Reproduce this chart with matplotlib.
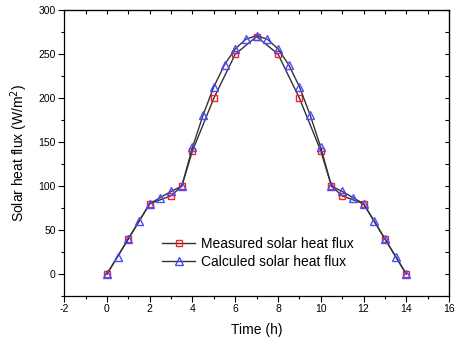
import matplotlib
matplotlib.use("Agg")
import matplotlib.pyplot as plt
from matplotlib.ticker import MultipleLocator

plt.rcParams['font.family'] = ['Liberation Sans', 'DejaVu Sans']
plt.rcParams['axes.unicode_minus'] = False

meas_x = [0, 1, 2, 3, 3.5, 4, 5, 6, 7, 8, 9, 10, 10.5, 11, 12, 13, 14]
meas_y = [0, 40, 80, 89, 100, 140, 200, 250, 270, 250, 200, 140, 100, 89, 80, 40, 0]

calc_x = [0, 0.5, 1, 1.5, 2, 2.5, 3, 3.5, 4, 4.5, 5, 5.5, 6, 6.5, 7,
          7.5, 8, 8.5, 9, 9.5, 10, 10.5, 11, 11.5, 12, 12.5, 13, 13.5, 14]
calc_y = [0, 20, 40, 60, 80, 87, 94, 100, 144, 181, 213, 238, 256, 267, 271,
          267, 256, 238, 213, 181, 144, 100, 94, 87, 80, 60, 40, 20, 0]

fig = plt.figure(figsize=(4.55, 3.5), dpi=100)
ax = fig.add_axes([0.141, 0.154, 0.846, 0.817])

ax.plot(meas_x, meas_y, color='#333333', lw=1.0, marker='s', ms=5,
        mfc='none', mec='#ff2020', mew=1.0, label='Measured solar heat flux')
ax.plot(calc_x, calc_y, color='#333333', lw=1.0, marker='^', ms=5.5,
        mfc='none', mec='#4a4aff', mew=1.0, label='Calculed solar heat flux')

ax.set_xlim(-2, 16)
ax.set_ylim(-25, 300)
ax.xaxis.set_major_locator(MultipleLocator(2))
ax.xaxis.set_minor_locator(MultipleLocator(1))
ax.yaxis.set_major_locator(MultipleLocator(50))
ax.yaxis.set_minor_locator(MultipleLocator(25))
ax.tick_params(axis='both', which='major', direction='out', length=4, width=0.8,
               labelsize=7.5, pad=2, top=False, right=False)
ax.tick_params(axis='both', which='minor', direction='out', length=2.5, width=0.8,
               top=False, right=False)

# inward ticks on top and right
secx = ax.secondary_xaxis('top')
secx.xaxis.set_major_locator(MultipleLocator(1))
secx.tick_params(direction='in', length=3, width=0.8, labeltop=False)
secy = ax.secondary_yaxis('right')
secy.yaxis.set_major_locator(MultipleLocator(25))
secy.tick_params(direction='in', length=3, width=0.8, labelright=False)

for s in ax.spines.values():
    s.set_linewidth(0.9)

ax.set_xlabel('Time (h)', fontsize=10, labelpad=6)
ax.set_ylabel('Solar heat flux (W/m$^2$)', fontsize=10, labelpad=6)

ax.legend(loc='lower left', bbox_to_anchor=(0.24, 0.075), frameon=False,
          fontsize=10, handlelength=2.4, handletextpad=0.4, labelspacing=0.3,
          borderaxespad=0)

fig.savefig('out.png', dpi=100)
